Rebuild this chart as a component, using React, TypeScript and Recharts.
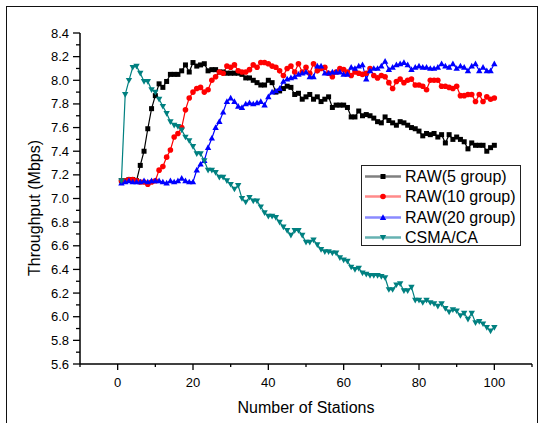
import React from 'react';
import { LineChart, Line, XAxis, YAxis } from 'recharts';

const stations: number[] = Array.from({ length: 100 }, (_, i) => i + 1);

const raw5 = [
  7.15, 7.15, 7.16, 7.16, 7.15, 7.28, 7.40, 7.59, 7.76, 7.87,
  7.97, 7.94, 7.99, 8.05, 8.05, 8.05, 8.08, 8.13, 8.07, 8.15,
  8.12, 8.13, 8.14, 8.08, 8.09, 8.09, 8.07, 8.07, 8.06, 8.06,
  8.06, 8.06, 8.05, 8.02, 8.02, 8.00, 7.98, 7.96, 7.96, 8.00,
  7.98, 7.90, 7.91, 7.93, 7.95, 7.94, 7.88, 7.89, 7.84, 7.86,
  7.88, 7.84, 7.86, 7.82, 7.84, 7.86, 7.77, 7.79, 7.79, 7.79,
  7.77, 7.69, 7.69, 7.74, 7.70, 7.71, 7.70, 7.68, 7.65, 7.64,
  7.69, 7.66, 7.64, 7.62, 7.65, 7.64, 7.62, 7.60, 7.59, 7.57,
  7.53, 7.55, 7.54, 7.55, 7.52, 7.54, 7.47, 7.54, 7.50, 7.52,
  7.50, 7.48, 7.42, 7.47, 7.45, 7.45, 7.45, 7.40, 7.43, 7.45,
];

const raw10 = [
  7.15, 7.15, 7.16, 7.16, 7.15, 7.14, 7.14, 7.12, 7.14, 7.15,
  7.24, 7.27, 7.35, 7.41, 7.52, 7.55, 7.60, 7.75, 7.85, 7.90,
  7.93, 7.94, 7.90, 7.92, 8.00, 8.03, 8.07, 8.06, 8.12, 8.11,
  8.13, 8.08, 8.07, 8.07, 8.09, 8.13, 8.11, 8.15, 8.15, 8.14,
  8.12, 8.11, 8.08, 8.04, 8.10, 8.12, 8.07, 8.14, 8.07, 8.11,
  8.06, 8.14, 8.08, 8.10, 8.11, 8.06, 8.03, 8.07, 8.10, 8.09,
  8.07, 8.04, 8.07, 8.06, 8.05, 8.06, 8.10, 8.04, 8.02, 8.04,
  8.03, 7.98, 7.93, 7.99, 8.01, 7.98, 8.00, 8.01, 7.96, 7.96,
  7.95, 7.92, 8.00, 8.00, 8.00, 7.95, 7.95, 7.94, 7.93, 7.95,
  7.87, 7.87, 7.88, 7.88, 7.82, 7.88, 7.82, 7.86, 7.84, 7.85,
];

const raw20 = [
  7.13, 7.14, 7.15, 7.14, 7.14, 7.14, 7.15, 7.14, 7.15, 7.15,
  7.15, 7.14, 7.13, 7.15, 7.14, 7.15, 7.17, 7.15, 7.14, 7.14,
  7.24, 7.29, 7.32, 7.43, 7.51, 7.60, 7.65, 7.73, 7.82, 7.85,
  7.82, 7.78, 7.77, 7.80, 7.81, 7.80, 7.81, 7.82, 7.79, 7.86,
  7.90, 7.91, 7.93, 7.99, 8.01, 8.02, 8.03, 8.05, 8.06, 8.07,
  8.03, 8.03, 8.12, 8.12, 8.06, 8.06, 8.07, 8.07, 8.07, 8.05,
  8.05, 8.11, 8.10, 8.12, 8.13, 8.01, 8.08, 8.10, 8.10, 8.12,
  8.16, 8.09, 8.11, 8.13, 8.14, 8.15, 8.13, 8.09, 8.11, 8.12,
  8.11, 8.11, 8.10, 8.10, 8.11, 8.14, 8.12, 8.11, 8.14, 8.10,
  8.12, 8.11, 8.08, 8.12, 8.14, 8.08, 8.11, 8.08, 8.08, 8.14,
];

const csma = [
  7.15, 7.88, 8.00, 8.11, 8.12, 8.06, 7.99, 7.99, 7.92, 7.90,
  7.84, 7.78, 7.72, 7.65, 7.62, 7.61, 7.58, 7.52, 7.49, 7.44,
  7.38, 7.38, 7.32, 7.24, 7.24, 7.22, 7.18, 7.18, 7.15, 7.12,
  7.08, 7.11, 7.00, 6.97, 7.01, 6.98, 6.98, 6.93, 6.88, 6.85,
  6.85, 6.84, 6.80, 6.76, 6.73, 6.69, 6.73, 6.73, 6.69, 6.63,
  6.63, 6.65, 6.61, 6.57, 6.55, 6.55, 6.54, 6.54, 6.50, 6.48,
  6.47, 6.42, 6.40, 6.41, 6.37, 6.36, 6.35, 6.35, 6.35, 6.34,
  6.33, 6.23, 6.23, 6.27, 6.28, 6.22, 6.22, 6.25, 6.14, 6.14,
  6.12, 6.14, 6.12, 6.11, 6.09, 6.11, 6.07, 6.04, 6.06, 6.05,
  6.01, 6.03, 5.98, 6.03, 5.95, 5.96, 5.94, 5.91, 5.88, 5.91,
];

const xTicks = [-10, 0, 10, 20, 30, 40, 50, 60, 70, 80, 90, 100, 110];
const xLabels = [0, 20, 40, 60, 80, 100];
const yTicks = [
  5.6, 5.7, 5.8, 5.9, 6.0, 6.1, 6.2, 6.3, 6.4, 6.5, 6.6, 6.7, 6.8, 6.9, 7.0,
  7.1, 7.2, 7.3, 7.4, 7.5, 7.6, 7.7, 7.8, 7.9, 8.0, 8.1, 8.2, 8.3, 8.4,
];
const yLabels = ['5.6', '5.8', '6.0', '6.2', '6.4', '6.6', '6.8', '7.0', '7.2', '7.4', '7.6', '7.8', '8.0', '8.2', '8.4'];

const seriesNames = ['RAW(5 group)', 'RAW(10 group)', 'RAW(20 group)', 'CSMA/CA'];

const data = stations.map((n, i) => ({
  n,
  raw5: raw5[i],
  raw10: raw10[i],
  raw20: raw20[i],
  csma: csma[i],
}));

const FONT = '"Liberation Sans", Arial, sans-serif';

const SquareDot = (p: any) =>
  p.cx == null ? null : <rect x={p.cx - 2.5} y={p.cy - 2.5} width={5} height={5} fill={p.fill} />;
const CircleDot = (p: any) =>
  p.cx == null ? null : <circle cx={p.cx} cy={p.cy} r={2.8} fill={p.fill} />;
const UpDot = (p: any) =>
  p.cx == null ? null : (
    <polygon points={`${p.cx},${p.cy - 3.3} ${p.cx - 3.2},${p.cy + 2.4} ${p.cx + 3.2},${p.cy + 2.4}`} fill={p.fill} />
  );
const DownDot = (p: any) =>
  p.cx == null ? null : (
    <polygon points={`${p.cx},${p.cy + 3.3} ${p.cx - 3.2},${p.cy - 2.4} ${p.cx + 3.2},${p.cy - 2.4}`} fill={p.fill} />
  );

const XTick = (p: any) => {
  const v = p.payload.value;
  const major = xLabels.includes(v);
  return (
    <g>
      <line x1={p.x} x2={p.x} y1={p.y} y2={p.y + (major ? 6 : 3)} stroke="#000" strokeWidth={1.3} />
      {major && (
        <text x={p.x} y={p.y + 23} textAnchor="middle" fontSize={13} fontFamily={FONT} fill="#000">
          {v}
        </text>
      )}
    </g>
  );
};

const YTick = (p: any) => {
  const v: number = p.payload.value;
  const label = v.toFixed(1);
  const major = yLabels.includes(label);
  return (
    <g>
      <line x1={p.x - (major ? 7 : 4)} x2={p.x} y1={p.y} y2={p.y} stroke="#000" strokeWidth={1.3} />
      {major && (
        <text x={p.x - 11} y={p.y + 4.5} textAnchor="end" fontSize={13} fontFamily={FONT} fill="#000">
          {label}
        </text>
      )}
    </g>
  );
};

const YTitle = () => (
  <text
    x={34}
    y={208}
    transform="rotate(-90, 34, 208)"
    textAnchor="middle"
    dominantBaseline="central"
    fontSize={16}
    fontFamily={FONT}
    fill="#000"
  >
    Throughput (Mbps)
  </text>
);

const XTitle = () => (
  <text x={306} y={413} textAnchor="middle" fontSize={16} fontFamily={FONT} fill="#000">
    Number of Stations
  </text>
);

const legendItems = [
  { name: seriesNames[0], line: '#808080', mark: '#000000', shape: 'square' },
  { name: seriesNames[1], line: '#ff8a8a', mark: '#ff0000', shape: 'circle' },
  { name: seriesNames[2], line: '#8a8aff', mark: '#0000ff', shape: 'up' },
  { name: seriesNames[3], line: '#66b2b2', mark: '#008080', shape: 'down' },
];

const LegendBox = () => (
  <div
    style={{
      position: 'absolute',
      left: 361,
      top: 165,
      width: 158,
      height: 79,
      border: '1.5px solid #222',
      background: '#fff',
      fontFamily: FONT,
    }}
  >
    {legendItems.map((it, i) => (
      <div key={it.name} style={{ position: 'absolute', left: 0, top: 1 + i * 20.3, height: 19, width: 158 }}>
        <svg width={40} height={19} style={{ position: 'absolute', left: 2, top: 0 }}>
          <line x1={1} x2={37} y1={9.5} y2={9.5} stroke={it.line} strokeWidth={2.5} />
          {it.shape === 'square' && <SquareDot cx={19} cy={9.5} fill={it.mark} />}
          {it.shape === 'circle' && <CircleDot cx={19} cy={9.5} fill={it.mark} />}
          {it.shape === 'up' && <UpDot cx={19} cy={9.5} fill={it.mark} />}
          {it.shape === 'down' && <DownDot cx={19} cy={9.5} fill={it.mark} />}
        </svg>
        <span style={{ position: 'absolute', left: 43, top: 0, fontSize: 16, lineHeight: '19px', color: '#000', whiteSpace: 'nowrap' }}>
          {it.name}
        </span>
      </div>
    ))}
  </div>
);

export default function App() {
  return (
    <div style={{ position: 'absolute', left: 0, top: 0, width: 547, height: 423, overflow: 'hidden', background: '#fff' }}>
      <div
        style={{
          position: 'absolute',
          left: 6,
          top: 6,
          width: 532,
          height: 440,
          border: '1.5px solid #111',
          boxSizing: 'border-box',
        }}
      />
      <LineChart width={547} height={423} data={data} margin={{ top: 33, right: 15, bottom: 0, left: 0 }}>
        <XAxis
          type="number"
          dataKey="n"
          domain={[-10, 110]}
          ticks={xTicks}
          interval={0}
          allowDataOverflow
          height={59}
          tickSize={0}
          tickMargin={0}
          tickLine={false}
          tick={<XTick />}
          axisLine={{ stroke: '#000', strokeWidth: 1.5 }}
          label={<XTitle />}
        />
        <YAxis
          type="number"
          domain={[5.6, 8.4]}
          ticks={yTicks}
          interval={0}
          allowDataOverflow
          width={80}
          tickSize={0}
          tickMargin={0}
          tickLine={false}
          tick={<YTick />}
          axisLine={{ stroke: '#000', strokeWidth: 1.5 }}
          label={<YTitle />}
        />
        <Line type="linear" dataKey="raw5" stroke="#000000" strokeWidth={1.2} dot={<SquareDot fill="#000000" />} activeDot={false} isAnimationActive={false} />
        <Line type="linear" dataKey="raw10" stroke="#ff0000" strokeWidth={1.2} dot={<CircleDot fill="#ff0000" />} activeDot={false} isAnimationActive={false} />
        <Line type="linear" dataKey="raw20" stroke="#0000ff" strokeWidth={1.2} dot={<UpDot fill="#0000ff" />} activeDot={false} isAnimationActive={false} />
        <Line type="linear" dataKey="csma" stroke="#008080" strokeWidth={1.2} dot={<DownDot fill="#008080" />} activeDot={false} isAnimationActive={false} />
      </LineChart>
      <LegendBox />
    </div>
  );
}
